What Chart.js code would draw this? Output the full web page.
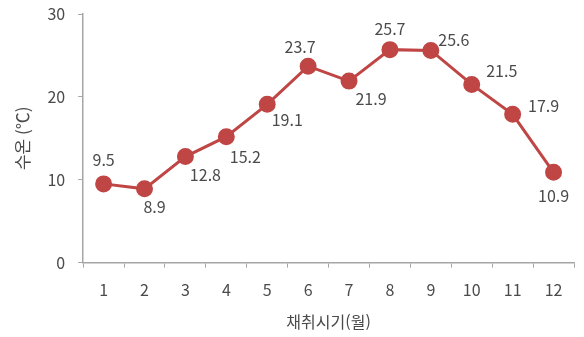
<!DOCTYPE html>
<html lang="ko">
<head>
    <meta charset="UTF-8">
    <title>채취시기별 수온</title>
    <script src="https://cdn.jsdelivr.net/npm/chart.js"></script>
    <style>
        body { margin: 0; background: #fff; }
        #wrap { width: 584px; height: 337px; }
    </style>
</head>
<body>
    <div id="wrap"><canvas id="tempChart" width="584" height="337"></canvas></div>

    <script>
        // 월별 수온 데이터
        const months = ['1', '2', '3', '4', '5', '6', '7', '8', '9', '10', '11', '12'];
        const waterTemp = [9.5, 8.9, 12.8, 15.2, 19.1, 23.7, 21.9, 25.7, 25.6, 21.5, 17.9, 10.9];
        const yTicks = [0, 10, 20, 30];

        // 값 레이블 위치 (점 기준 픽셀 이동)
        const labelShift = [
            [0, -24], [10, 18], [20, 18], [19, 20], [20, 16], [-8, -19],
            [22, 18], [0, -21], [23, -11], [30, -14], [31, -8], [0, 24]
        ];

        const red = '#BF4644';
        const textColor = '#4A4A4A';
        const font = "'Noto Sans CJK KR', 'Noto Sans', sans-serif";

        const valueLabels = {
            id: 'valueLabels',
            afterDatasetsDraw(chart) {
                const ctx = chart.ctx;
                const meta = chart.getDatasetMeta(0);
                ctx.save();
                ctx.font = '16px ' + font;
                ctx.fillStyle = textColor;
                ctx.textAlign = 'center';
                ctx.textBaseline = 'middle';
                meta.data.forEach((pt, i) => {
                    const s = labelShift[i];
                    ctx.fillText(waterTemp[i].toFixed(1), pt.x + s[0], pt.y + s[1]);
                });
                ctx.restore();
            }
        };

        new Chart(document.getElementById('tempChart'), {
            type: 'line',
            data: {
                labels: months,
                datasets: [{
                    data: waterTemp,
                    borderColor: red,
                    backgroundColor: red,
                    borderWidth: 3,
                    pointRadius: 7,
                    pointHoverRadius: 7,
                    pointBackgroundColor: red,
                    pointBorderColor: red,
                    tension: 0
                }]
            },
            options: {
                responsive: false,
                animation: false,
                layout: { padding: { top: 14, right: 8, left: 8, bottom: 1 } },
                plugins: {
                    legend: { display: false },
                    tooltip: { enabled: false }
                },
                scales: {
                    x: {
                        offset: true,
                        grid: {
                            offset: true,
                            drawOnChartArea: false,
                            tickLength: 5,
                            color: '#A6A6A6'
                        },
                        border: { color: '#A6A6A6', width: 1.5 },
                        ticks: {
                            color: textColor,
                            font: { family: font, size: 16 },
                            padding: 13
                        },
                        title: {
                            display: true,
                            text: '채취시기(월)',
                            color: textColor,
                            font: { family: font, size: 16 },
                            padding: { top: 0 }
                        }
                    },
                    y: {
                        min: 0,
                        max: 30,
                        afterBuildTicks(axis) {
                            axis.ticks = yTicks.map(v => ({ value: v }));
                        },
                        // 눈금 간격이 차트 위쪽 여백을 늘리지 않도록
                        afterFit(axis) {
                            axis.paddingTop = 0;
                            axis.paddingBottom = 0;
                        },
                        grid: {
                            drawOnChartArea: false,
                            tickLength: 5,
                            color: '#A6A6A6'
                        },
                        border: { color: '#A6A6A6', width: 1.5 },
                        ticks: {
                            color: textColor,
                            font: { family: font, size: 16 },
                            padding: 13
                        },
                        title: {
                            display: true,
                            text: '수온 (℃)',
                            color: textColor,
                            font: { family: font, size: 17 },
                            padding: { top: 4, bottom: 2 }
                        }
                    }
                }
            },
            plugins: [valueLabels]
        });
    </script>
</body>
</html>
